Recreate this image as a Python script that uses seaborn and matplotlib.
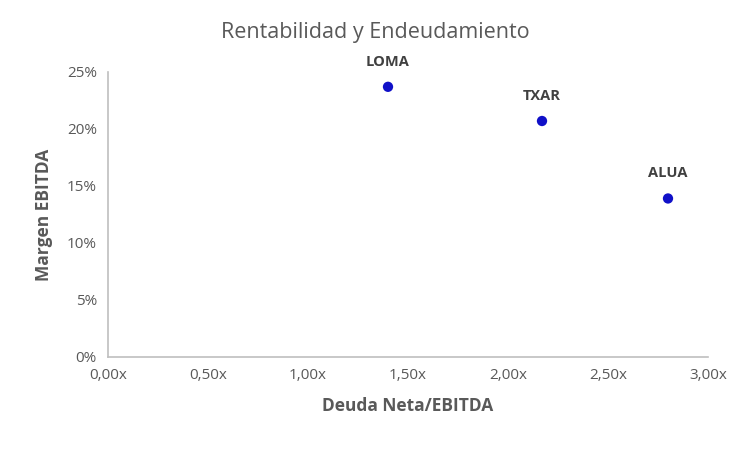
import matplotlib
matplotlib.use("Agg")
import matplotlib.pyplot as plt
import seaborn as sns
import pandas as pd
from matplotlib.ticker import FuncFormatter, MultipleLocator

# Data
companies = ["LOMA", "TXAR", "ALUA"]
deuda_ebitda = [1.40, 2.17, 2.80]
margen_ebitda = [0.237, 0.207, 0.139]

df = pd.DataFrame({"empresa": companies, "deuda": deuda_ebitda, "margen": margen_ebitda})

sns.set_theme(style="white")
plt.rcParams["font.family"] = ["Open Sans", "DejaVu Sans"]

gray = "#595959"
fig = plt.figure(figsize=(7.5, 4.5), dpi=100)
ax = fig.add_axes([0.144, 0.207, 0.8, 0.633])

sns.scatterplot(data=df, x="deuda", y="margen", ax=ax, color="#1010C8",
                s=55, edgecolor="none", legend=False, zorder=3)

for name, x, y in zip(companies, deuda_ebitda, margen_ebitda):
    ax.annotate(name, (x, y), xytext=(0, 18), textcoords="offset points",
                ha="center", va="center", fontsize=10.5, fontweight="bold", color="#404040")

ax.set_xlim(0, 3.0)
ax.set_ylim(0, 0.25)
ax.xaxis.set_major_locator(MultipleLocator(0.5))
ax.yaxis.set_major_locator(MultipleLocator(0.05))
ax.xaxis.set_major_formatter(FuncFormatter(lambda v, p: f"{v:.2f}x".replace(".", ",")))
ax.yaxis.set_major_formatter(FuncFormatter(lambda v, p: f"{v*100:.0f}%"))
ax.tick_params(axis="both", length=0, labelsize=11, labelcolor=gray, pad=8)

for side in ["top", "right"]:
    ax.spines[side].set_visible(False)
for side in ["left", "bottom"]:
    ax.spines[side].set_color("#BFBFBF")
    ax.spines[side].set_linewidth(1.2)

ax.set_xlabel("Deuda Neta/EBITDA", fontsize=12.5, fontweight="bold", color=gray, labelpad=10)
ax.set_ylabel("Margen EBITDA", fontsize=12.5, fontweight="bold", color=gray, labelpad=10)
fig.text(0.5, 0.928, "Rentabilidad y Endeudamiento", ha="center", va="center",
         fontsize=15.5, color=gray)

fig.savefig("out.png", dpi=100)
